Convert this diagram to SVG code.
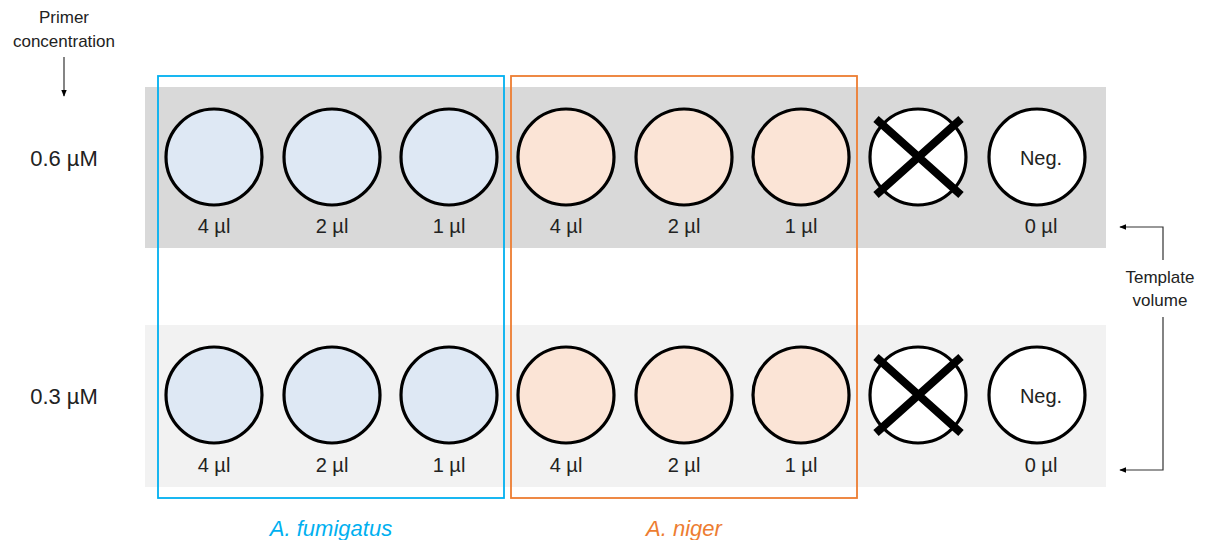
<svg xmlns="http://www.w3.org/2000/svg" width="1205" height="540" viewBox="0 0 1205 540">
<defs>
<style>
text{font-family:"Liberation Sans","Open Sans",sans-serif;fill:#222}
.vol{font-size:20px;text-anchor:middle}
.conc{font-size:22px;text-anchor:middle}
.small{font-size:17px;text-anchor:middle}
.well{stroke:#000;stroke-width:3.2}
.fum{fill:#dee8f4}
.nig{fill:#fbe4d6}
.neg{fill:#fff}
.ln{stroke:#333;stroke-width:1.2;fill:none}
</style>
<marker id="ah" viewBox="0 0 10 10" refX="9" refY="5" markerWidth="6" markerHeight="6" orient="auto"><path d="M0,1 L10,5 L0,9 z" fill="#000"/></marker>
</defs>
<rect width="1205" height="540" fill="#fff"/>
<rect x="145" y="87" width="961" height="161" fill="#d9d9d9"/>
<rect x="145" y="325" width="961" height="162" fill="#f2f2f2"/>
<g id="fumigatus-box"><rect x="158" y="76" width="346" height="422" fill="none" stroke="#00b0f0" stroke-width="1.8"/></g>
<g id="niger-box"><rect x="511" y="76" width="346" height="422" fill="none" stroke="#ed7d31" stroke-width="1.8"/></g>
<g id="row1">
<g id="w1a"><circle class="well fum" cx="214" cy="157" r="48"/><text class="vol" x="214" y="233">4 µl</text></g>
<g id="w1b"><circle class="well fum" cx="332" cy="157" r="48"/><text class="vol" x="332" y="233">2 µl</text></g>
<g id="w1c"><circle class="well fum" cx="449" cy="157" r="48"/><text class="vol" x="449" y="233">1 µl</text></g>
<g id="w1d"><circle class="well nig" cx="566" cy="157" r="48"/><text class="vol" x="566" y="233">4 µl</text></g>
<g id="w1e"><circle class="well nig" cx="684" cy="157" r="48"/><text class="vol" x="684" y="233">2 µl</text></g>
<g id="w1f"><circle class="well nig" cx="801" cy="157" r="48"/><text class="vol" x="801" y="233">1 µl</text></g>
<g id="w1g"><circle class="well neg" cx="918" cy="157" r="48"/><path d="M876,119 L961,195 M961,119 L876,195" stroke="#000" stroke-width="8"/></g>
<g id="w1h"><circle class="well neg" cx="1037" cy="157" r="48"/><text class="vol" x="1041" y="165">Neg.</text><text class="vol" x="1041" y="233">0 µl</text></g>
</g>
<g id="row2">
<g id="w2a"><circle class="well fum" cx="214" cy="395" r="48"/><text class="vol" x="214" y="472">4 µl</text></g>
<g id="w2b"><circle class="well fum" cx="332" cy="395" r="48"/><text class="vol" x="332" y="472">2 µl</text></g>
<g id="w2c"><circle class="well fum" cx="449" cy="395" r="48"/><text class="vol" x="449" y="472">1 µl</text></g>
<g id="w2d"><circle class="well nig" cx="566" cy="395" r="48"/><text class="vol" x="566" y="472">4 µl</text></g>
<g id="w2e"><circle class="well nig" cx="684" cy="395" r="48"/><text class="vol" x="684" y="472">2 µl</text></g>
<g id="w2f"><circle class="well nig" cx="801" cy="395" r="48"/><text class="vol" x="801" y="472">1 µl</text></g>
<g id="w2g"><circle class="well neg" cx="918" cy="395" r="48"/><path d="M876,357 L961,433 M961,357 L876,433" stroke="#000" stroke-width="8"/></g>
<g id="w2h"><circle class="well neg" cx="1037" cy="395" r="48"/><text class="vol" x="1041" y="403">Neg.</text><text class="vol" x="1041" y="472">0 µl</text></g>
</g>
<g id="labels">
<text class="small" x="64" y="23">Primer</text>
<text class="small" x="64" y="47">concentration</text>
<text class="conc" x="64" y="166">0.6 µM</text>
<text class="conc" x="64" y="404">0.3 µM</text>
<text class="small" x="1160" y="283">Template</text>
<text class="small" x="1160" y="306">volume</text>
<text x="331" y="536" font-size="22" font-style="italic" text-anchor="middle" style="fill:#00b0f0">A. fumigatus</text>
<text x="684" y="536" font-size="22" font-style="italic" text-anchor="middle" style="fill:#ed7d31">A. niger</text>
</g>
<g id="connectors">
<line class="ln" x1="64" y1="57" x2="64" y2="96" marker-end="url(#ah)"/>
<polyline class="ln" points="1163,260 1163,227 1120,227" marker-end="url(#ah)"/>
<polyline class="ln" points="1163,317 1163,470 1120,470" marker-end="url(#ah)"/>
</g>
</svg>
